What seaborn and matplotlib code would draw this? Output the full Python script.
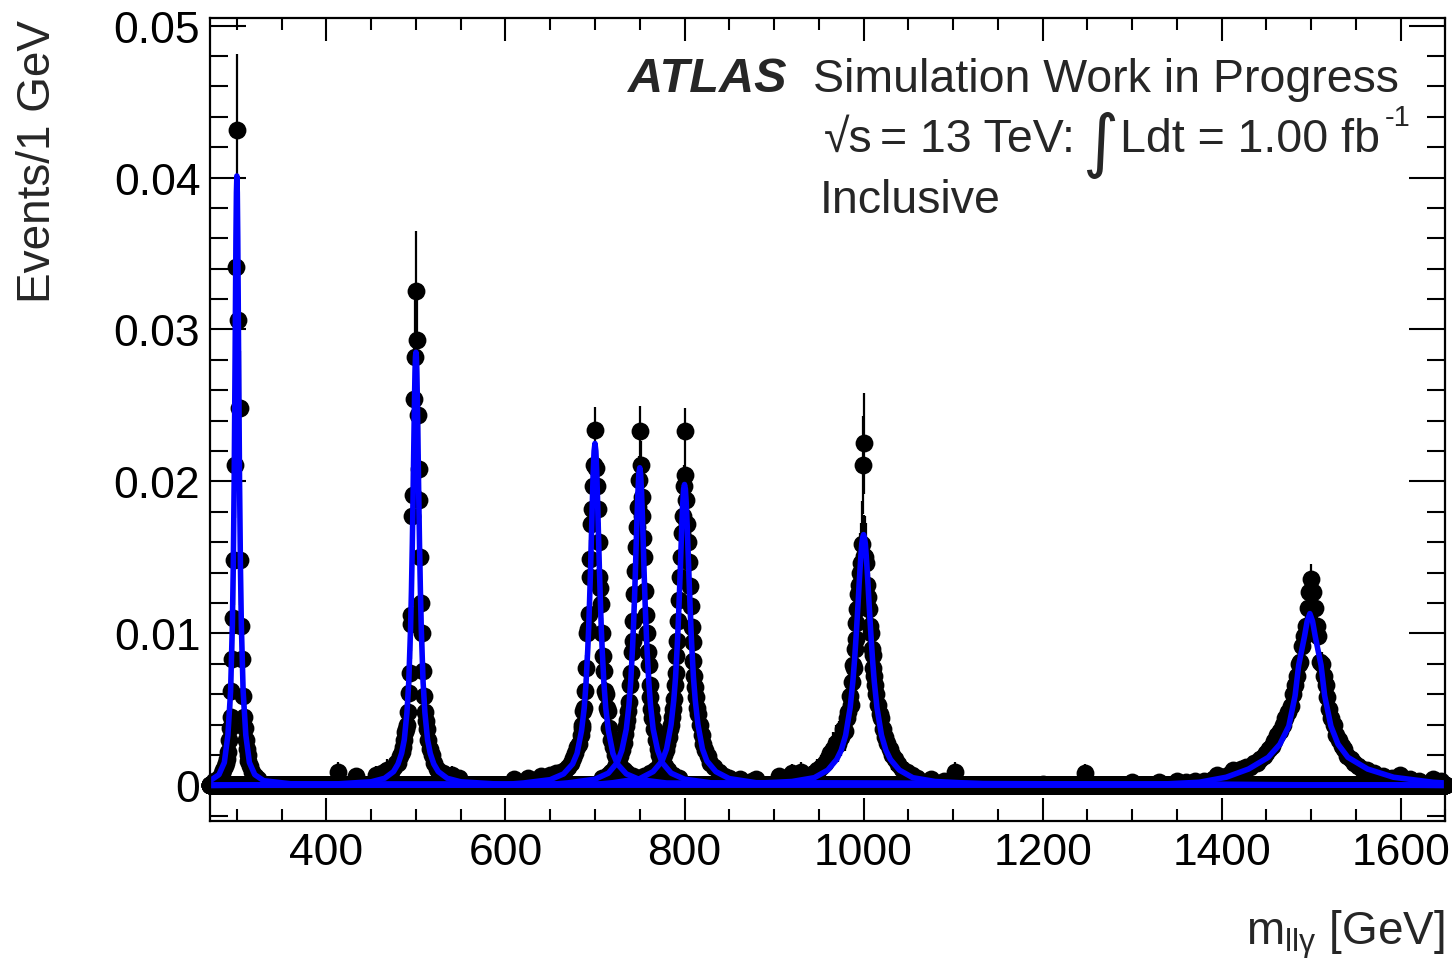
import numpy as np
import pandas as pd
import matplotlib
matplotlib.use("Agg")
import matplotlib.pyplot as plt
from matplotlib.ticker import MultipleLocator, FuncFormatter
import seaborn as sns

# ---------------------------------------------------------------------------
# Histogram binning: 1 GeV bins over the displayed mass window
# ---------------------------------------------------------------------------
MASS_LO, MASS_HI = 270, 1650

# ---------------------------------------------------------------------------
# Signal samples: non-empty bins (mass [GeV], events per 1 GeV)
# ---------------------------------------------------------------------------
mass_300 = [275, 280, 283, 285, 287, 288, 289, 290, 291, 292,
            293, 294, 295, 296, 297, 298, 299, 300, 301, 302,
            303, 304, 305, 306, 307, 308, 309, 310, 311, 312,
            313, 315, 317, 320, 324]
events_300 = [0.0003, 0.0005, 0.0008, 0.0010, 0.0013, 0.0015, 0.0017, 0.0022, 0.0030, 0.0038,
              0.0045, 0.0062, 0.0083, 0.0110, 0.0148, 0.0211, 0.0341, 0.0431, 0.0306, 0.0248,
              0.0248, 0.0148, 0.0105, 0.0083, 0.0059, 0.0045, 0.0038, 0.0030, 0.0024, 0.0020,
              0.0016, 0.0013, 0.0009, 0.0006, 0.0004]

mass_500 = [413, 433, 455, 462, 468, 472, 475, 478, 480, 482,
            484, 486, 487, 488, 489, 490, 491, 492, 493, 494,
            495, 496, 497, 498, 499, 500, 501, 502, 503, 504,
            505, 506, 507, 508, 509, 510, 511, 512, 514, 516,
            518, 520, 523, 526, 530, 540, 548]
events_500 = [0.0009, 0.0006, 0.0007, 0.0008, 0.0010, 0.0009, 0.0012, 0.0015, 0.0015, 0.0019,
              0.0022, 0.0025, 0.0030, 0.0035, 0.0037, 0.0040, 0.0048, 0.0061, 0.0074, 0.0106,
              0.0112, 0.0177, 0.0191, 0.0254, 0.0282, 0.0325, 0.0293, 0.0244, 0.0208, 0.0188,
              0.0150, 0.0120, 0.0100, 0.0075, 0.0059, 0.0048, 0.0042, 0.0037, 0.0030, 0.0024,
              0.0020, 0.0015, 0.0011, 0.0009, 0.0008, 0.0007, 0.0005]

mass_700 = [610, 625, 640, 650, 656, 662, 666, 670, 673, 676,
            678, 680, 682, 684, 685, 686, 687, 688, 689, 690,
            691, 692, 693, 694, 695, 696, 697, 698, 699, 700,
            701, 702, 703, 704, 705, 706, 707, 708, 709, 710,
            711, 712, 713, 714, 716, 718, 720, 722, 725, 728,
            732, 736, 742, 750]
events_700 = [0.0004, 0.0005, 0.0006, 0.0007, 0.0008, 0.0009, 0.0010, 0.0012, 0.0015, 0.0018,
              0.0021, 0.0025, 0.0027, 0.0033, 0.0038, 0.0040, 0.0049, 0.0051, 0.0062, 0.0077,
              0.0100, 0.0103, 0.0113, 0.0137, 0.0149, 0.0172, 0.0182, 0.0197, 0.0211, 0.0234,
              0.0209, 0.0197, 0.0182, 0.0160, 0.0137, 0.0130, 0.0119, 0.0100, 0.0085, 0.0075,
              0.0062, 0.0060, 0.0051, 0.0049, 0.0038, 0.0030, 0.0025, 0.0020, 0.0016, 0.0013,
              0.0010, 0.0008, 0.0006, 0.0004]

mass_750 = [708, 714, 718, 722, 725, 728, 730, 732, 734, 735,
            736, 737, 738, 739, 740, 741, 742, 743, 744, 745,
            746, 747, 748, 749, 750, 751, 752, 753, 754, 755,
            756, 757, 758, 759, 760, 761, 762, 763, 764, 766,
            768, 770, 772, 775, 778, 782, 787, 794]
events_750 = [0.0005, 0.0007, 0.0009, 0.0012, 0.0015, 0.0019, 0.0023, 0.0028, 0.0034, 0.0039,
              0.0043, 0.0049, 0.0055, 0.0066, 0.0074, 0.0088, 0.0095, 0.0108, 0.0126, 0.0141,
              0.0157, 0.0170, 0.0183, 0.0201, 0.0233, 0.0211, 0.0190, 0.0177, 0.0163, 0.0150,
              0.0128, 0.0112, 0.0100, 0.0088, 0.0079, 0.0066, 0.0058, 0.0050, 0.0044, 0.0037,
              0.0030, 0.0024, 0.0020, 0.0016, 0.0013, 0.0010, 0.0007, 0.0005]

mass_800 = [745, 755, 762, 767, 771, 774, 777, 779, 781, 783,
            784, 785, 786, 787, 788, 789, 790, 791, 792, 793,
            794, 795, 796, 797, 798, 799, 800, 801, 802, 803,
            804, 805, 806, 807, 808, 809, 810, 811, 812, 813,
            814, 815, 817, 819, 821, 823, 826, 829, 833, 838,
            844, 850, 862, 875]
events_800 = [0.0004, 0.0006, 0.0008, 0.0010, 0.0013, 0.0016, 0.0020, 0.0023, 0.0027, 0.0032,
              0.0037, 0.0040, 0.0045, 0.0050, 0.0057, 0.0066, 0.0074, 0.0085, 0.0095, 0.0108,
              0.0122, 0.0137, 0.0150, 0.0166, 0.0177, 0.0197, 0.0233, 0.0204, 0.0188, 0.0172,
              0.0160, 0.0147, 0.0131, 0.0118, 0.0104, 0.0094, 0.0082, 0.0072, 0.0065, 0.0058,
              0.0051, 0.0047, 0.0040, 0.0033, 0.0027, 0.0023, 0.0019, 0.0015, 0.0012, 0.0009,
              0.0006, 0.0005, 0.0004, 0.0003]

mass_1000 = [880, 905, 920, 930, 940, 948, 953, 957, 960, 963,
             966, 969, 971, 973, 975, 977, 979, 981, 983, 985,
             986, 987, 988, 989, 990, 991, 992, 993, 994, 995,
             996, 997, 998, 999, 1000, 1001, 1002, 1003, 1004, 1005,
             1006, 1007, 1008, 1009, 1010, 1011, 1012, 1013, 1014, 1016,
             1018, 1020, 1022, 1024, 1026, 1029, 1032, 1035, 1039, 1043,
             1048, 1054, 1060, 1075, 1090, 1102, 1247]
events_1000 = [0.0004, 0.0006, 0.0008, 0.0009, 0.0007, 0.0010, 0.0012, 0.0015, 0.0018, 0.0021,
               0.0024, 0.0028, 0.0027, 0.0030, 0.0032, 0.0037, 0.0036, 0.0044, 0.0048, 0.0059,
               0.0053, 0.0068, 0.0079, 0.0077, 0.0090, 0.0096, 0.0107, 0.0116, 0.0126, 0.0132,
               0.0140, 0.0146, 0.0159, 0.0211, 0.0225, 0.0151, 0.0150, 0.0146, 0.0132, 0.0124,
               0.0116, 0.0105, 0.0100, 0.0090, 0.0086, 0.0077, 0.0072, 0.0066, 0.0060, 0.0053,
               0.0047, 0.0044, 0.0037, 0.0032, 0.0028, 0.0024, 0.0020, 0.0017, 0.0014, 0.0011,
               0.0009, 0.0007, 0.0005, 0.0004, 0.0003, 0.0009, 0.0008]

mass_1500 = [1200, 1300, 1330, 1350, 1360, 1370, 1380, 1390, 1395, 1400,
             1405, 1410, 1413, 1418, 1422, 1427, 1432, 1436, 1440, 1443,
             1447, 1450, 1453, 1456, 1459, 1462, 1465, 1468, 1471, 1474,
             1477, 1480, 1482, 1484, 1486, 1488, 1490, 1492, 1494, 1496,
             1498, 1500, 1502, 1504, 1506, 1508, 1510, 1512, 1514, 1516,
             1518, 1520, 1522, 1525, 1528, 1531, 1534, 1537, 1540, 1544,
             1548, 1552, 1557, 1562, 1570, 1580, 1590, 1599, 1610, 1620,
             1636, 1645]
events_1500 = [0.0001, 0.0002, 0.0002, 0.0003, 0.0002, 0.0003, 0.0003, 0.0004, 0.0007, 0.0005,
               0.0006, 0.0008, 0.0010, 0.0009, 0.0011, 0.0012, 0.0012, 0.0015, 0.0015, 0.0017,
               0.0019, 0.0021, 0.0024, 0.0026, 0.0029, 0.0033, 0.0036, 0.0040, 0.0044, 0.0048,
               0.0052, 0.0060, 0.0066, 0.0072, 0.0080, 0.0081, 0.0092, 0.0098, 0.0105, 0.0117,
               0.0127, 0.0136, 0.0127, 0.0117, 0.0105, 0.0098, 0.0081, 0.0080, 0.0072, 0.0066,
               0.0058, 0.0050, 0.0044, 0.0040, 0.0033, 0.0030, 0.0026, 0.0024, 0.0019, 0.0017,
               0.0015, 0.0013, 0.0011, 0.0010, 0.0008, 0.0006, 0.0005, 0.0007, 0.0004, 0.0003,
               0.0004, 0.0003]

# effective per-event weight of each sample (sets the bin errors)
weight_300, weight_500, weight_700 = 5.8e-4, 4.9e-4, 1.0e-4
weight_750, weight_800, weight_1000, weight_1500 = 1.2e-4, 1.0e-4, 4.9e-4, 7.3e-5

# ---------------------------------------------------------------------------
# Fitted signal shapes (mass [GeV], events per 1 GeV)
# ---------------------------------------------------------------------------
fit_mass_300 = [270, 280, 286, 290, 293, 295, 296, 297, 298, 298.5,
                299, 299.5, 300, 300.5, 301, 301.5, 302, 303, 304, 305,
                307, 310, 314, 320, 330, 360, 1650]
fit_val_300 = [0.0003, 0.0007, 0.0015, 0.0033, 0.0062, 0.0106, 0.0144, 0.0200, 0.0278, 0.0321,
               0.0361, 0.0390, 0.0401, 0.0390, 0.0361, 0.0321, 0.0278, 0.0200, 0.0144, 0.0106,
               0.0062, 0.0033, 0.0015, 0.0007, 0.0003, 0.0001, 0.0]

fit_mass_500 = [270, 400, 450, 465, 475, 480, 484, 487, 490, 492,
                494, 495, 496, 497, 498, 498.5, 499, 499.5, 500, 500.5,
                501, 501.5, 502, 503, 504, 505, 506, 508, 510, 513,
                516, 520, 525, 535, 550, 600, 1650]
fit_val_500 = [0.0, 0.00005, 0.00023, 0.00046, 0.0009, 0.0014, 0.0021, 0.0030, 0.0048, 0.0068,
               0.0103, 0.0128, 0.0159, 0.0197, 0.0238, 0.0257, 0.0272, 0.0282, 0.0285, 0.0282,
               0.0272, 0.0257, 0.0238, 0.0197, 0.0159, 0.0128, 0.0103, 0.0068, 0.0048, 0.0030,
               0.0021, 0.0014, 0.0009, 0.00046, 0.00023, 0.00005, 0.0]

fit_mass_700 = [270, 600, 620, 650, 665, 675, 680, 685, 688, 690,
                692, 693, 694, 695, 696, 697, 698, 699, 700, 701,
                702, 703, 704, 705, 706, 707, 708, 710, 712, 715,
                720, 725, 735, 750, 780, 1650]
fit_val_700 = [0.0, 0.00006, 0.00015, 0.00037, 0.00075, 0.0014, 0.0021, 0.0036, 0.0051, 0.0067,
               0.0090, 0.0104, 0.0122, 0.0141, 0.0163, 0.0185, 0.0206, 0.0220, 0.0225, 0.0220,
               0.0206, 0.0185, 0.0163, 0.0141, 0.0122, 0.0104, 0.0090, 0.0067, 0.0051, 0.0036,
               0.0021, 0.0014, 0.00075, 0.00037, 0.00015, 0.0]

fit_mass_750 = [270, 650, 670, 700, 715, 725, 730, 735, 738, 740,
                742, 743, 744, 745, 746, 747, 748, 749, 750, 751,
                752, 753, 754, 755, 756, 757, 758, 760, 762, 765,
                770, 775, 785, 800, 830, 1650]
fit_val_750 = [0.0, 0.00006, 0.00016, 0.0004, 0.0008, 0.0015, 0.0023, 0.0037, 0.0053, 0.0069,
               0.0091, 0.0105, 0.0120, 0.0138, 0.0158, 0.0177, 0.0193, 0.0205, 0.0209, 0.0205,
               0.0193, 0.0177, 0.0158, 0.0138, 0.0120, 0.0105, 0.0091, 0.0069, 0.0053, 0.0037,
               0.0023, 0.0015, 0.0008, 0.0004, 0.00016, 0.0]

fit_mass_800 = [270, 700, 720, 750, 765, 775, 780, 785, 788, 790,
                792, 793, 794, 795, 796, 797, 798, 799, 800, 801,
                802, 803, 804, 805, 806, 807, 808, 810, 812, 815,
                820, 825, 835, 850, 880, 1650]
fit_val_800 = [0.0, 0.00006, 0.00017, 0.00044, 0.0009, 0.0016, 0.0024, 0.0040, 0.0056, 0.0071,
               0.0093, 0.0106, 0.0121, 0.0137, 0.0154, 0.0171, 0.0185, 0.0195, 0.0198, 0.0195,
               0.0185, 0.0171, 0.0154, 0.0137, 0.0121, 0.0106, 0.0093, 0.0071, 0.0056, 0.0040,
               0.0024, 0.0016, 0.0009, 0.00044, 0.00017, 0.0]

fit_mass_1000 = [270, 860, 920, 945, 960, 970, 975, 980, 985, 988,
                 990, 992, 993, 994, 995, 996, 997, 998, 999, 1000,
                 1001, 1002, 1003, 1004, 1005, 1006, 1007, 1008, 1010, 1012,
                 1015, 1020, 1025, 1030, 1040, 1055, 1080, 1140, 1650]
fit_val_1000 = [0.0, 0.00008, 0.00025, 0.0005, 0.0010, 0.0017, 0.0023, 0.0033, 0.0051, 0.0068,
                0.0083, 0.0101, 0.0111, 0.0121, 0.0132, 0.0142, 0.0151, 0.0159, 0.0163, 0.0165,
                0.0163, 0.0159, 0.0151, 0.0142, 0.0132, 0.0121, 0.0111, 0.0101, 0.0083, 0.0068,
                0.0051, 0.0033, 0.0023, 0.0017, 0.0010, 0.0005, 0.00025, 0.00008, 0.0]

fit_mass_1500 = [270, 1250, 1340, 1375, 1405, 1430, 1452, 1465, 1475, 1482,
                 1486, 1492.5, 1495.5, 1498.5, 1501.5, 1504.5, 1511, 1515, 1522, 1530,
                 1541, 1563, 1592, 1636, 1650]
fit_val_1500 = [0.0, 0.00002, 0.0001, 0.0002, 0.00053, 0.00107, 0.00184, 0.0027, 0.0039, 0.0059,
                0.0079, 0.0098, 0.0108, 0.0113, 0.0108, 0.0098, 0.0079, 0.0059, 0.0039, 0.0027,
                0.00184, 0.00107, 0.00053, 0.0002, 0.00015]

samples = [
    (mass_300, events_300, weight_300, fit_mass_300, fit_val_300),
    (mass_500, events_500, weight_500, fit_mass_500, fit_val_500),
    (mass_700, events_700, weight_700, fit_mass_700, fit_val_700),
    (mass_750, events_750, weight_750, fit_mass_750, fit_val_750),
    (mass_800, events_800, weight_800, fit_mass_800, fit_val_800),
    (mass_1000, events_1000, weight_1000, fit_mass_1000, fit_val_1000),
    (mass_1500, events_1500, weight_1500, fit_mass_1500, fit_val_1500),
]

# ---------------------------------------------------------------------------
# Style
# ---------------------------------------------------------------------------
sns.set_style("ticks")
FONT = ["Liberation Sans", "DejaVu Sans"]
plt.rcParams["font.family"] = FONT
plt.rcParams["mathtext.fontset"] = "custom"
plt.rcParams["mathtext.rm"] = "Liberation Sans"
plt.rcParams["mathtext.it"] = "Liberation Sans:italic"
plt.rcParams["mathtext.bf"] = "Liberation Sans:bold"
plt.rcParams["mathtext.sf"] = "Liberation Sans"

W, H = 1452, 962
fig = plt.figure(figsize=(W / 100, H / 100), dpi=100)
fig.patch.set_facecolor("white")
ax = fig.add_axes([210 / W, 1 - 821.7 / H, 1235.5 / W, 802.7 / H])
ax.set_facecolor("white")


def px(x, y):
    """Figure-fraction position from pixel coordinates (origin top-left)."""
    return x / W, 1 - y / H


bin_centers = np.arange(MASS_LO, MASS_HI + 1)

# data points: every bin of every sample, empty bins sit on zero
for masses, events, weight, _, _ in samples:
    counts = np.zeros(bin_centers.size)
    counts[np.asarray(masses) - MASS_LO] = events
    df = pd.DataFrame({"mass": bin_centers, "events": counts})
    errors = np.sqrt(weight * counts)
    filled = counts > 0
    ax.vlines(bin_centers[filled], (counts - errors)[filled], (counts + errors)[filled],
              color="black", linewidth=1.6, zorder=2.5)
    sns.scatterplot(data=df, x="mass", y="events", color="black", s=165,
                    linewidth=0, marker="o", ax=ax, legend=False,
                    clip_on=False, zorder=3)

# fitted shapes on top
for _, _, _, fmass, fval in samples:
    sns.lineplot(x=fmass, y=fval, color=(0, 0, 1), linewidth=4.0, ax=ax,
                 sort=False, estimator=None, legend=False, zorder=4,
                 solid_joinstyle="round", solid_capstyle="round")

ax.set_xlim(MASS_LO, MASS_HI)
ax.set_ylim(-0.00233, 0.0505)
ax.set_xlabel("")
ax.set_ylabel("")

ax.xaxis.set_major_locator(MultipleLocator(200))
ax.xaxis.set_minor_locator(MultipleLocator(50))
ax.yaxis.set_major_locator(MultipleLocator(0.01))
ax.yaxis.set_minor_locator(MultipleLocator(0.002))
ax.yaxis.set_major_formatter(FuncFormatter(lambda v, p: "0" if abs(v) < 1e-9 else f"{v:.2f}"))

ax.tick_params(which="both", direction="in", top=True, right=True, width=1.5, colors="black")
ax.tick_params(axis="x", which="major", length=16.5, pad=8, labelsize=32)
ax.tick_params(axis="x", which="minor", length=8.5)
ax.tick_params(axis="y", which="major", length=26, pad=7, labelsize=32)
ax.tick_params(axis="y", which="minor", length=13)
for lab in ax.get_xticklabels() + ax.get_yticklabels():
    lab.set_family(FONT)
for sp in ax.spines.values():
    sp.set_linewidth(1.6)
    sp.set_color("black")
    sp.set_zorder(5)

# axis titles
fig.text(*px(38, 20), "Events/1 GeV", rotation=90, ha="center", va="top", fontsize=33)
fig.text(*px(1445, 945), r"m$_{\mathregular{ll\gamma}}$ [GeV]", ha="right",
         va="baseline", fontsize=33)

# labels
fig.text(*px(628, 92), "ATLAS", fontsize=35, fontweight="bold",
         fontstyle="italic", va="baseline")
fig.text(*px(813, 92), "Simulation Work in Progress", fontsize=33.5, va="baseline")
fig.text(*px(824, 152), "\u221as", fontsize=33.5, va="baseline")
fig.text(*px(880, 152), "= 13 TeV:", fontsize=33.5, va="baseline")
fig.text(*px(1100, 145), "\u222b", fontsize=50, va="center", ha="center",
         family="DejaVu Sans")
fig.text(*px(1120, 152), "Ldt = 1.00 fb", fontsize=33.5, va="baseline")
fig.text(*px(1385, 126), "-1", fontsize=21, va="baseline")
fig.text(*px(820, 213), "Inclusive", fontsize=33.5, va="baseline")

fig.savefig("out.png", dpi=100, facecolor="white")
